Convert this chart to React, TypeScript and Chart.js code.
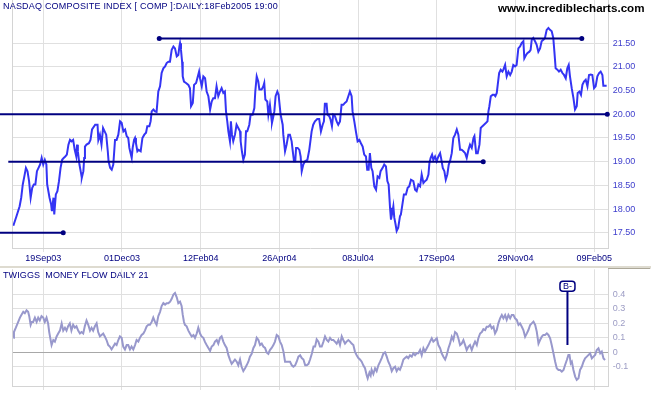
import React, { useEffect, useRef } from "react";
import { Chart, registerables } from "chart.js";

Chart.register(...registerables);

// ---------- DATA ----------
// bar index (trading day, 0 = ~22 Aug 2003) and NASDAQ value (hundreds)
const priceBars = [
  0, 2, 4, 5, 6, 7, 8, 9, 10, 11, 12, 13, 14, 15, 16, 17, 18, 19, 20, 21, 21.5, 23, 24, 24.5, 25.5, 26, 27, 28, 29, 30,
  31, 32, 33, 34, 35, 36, 37, 38, 39, 40, 40.5, 41, 42, 43, 43.5, 44.5, 45, 45.5, 46.5, 48, 49, 50, 52, 53.5, 54, 55, 56, 57, 58, 59,
  60, 60.5, 61.5, 62.5, 63.5, 64.6, 65.6, 66.7, 67.8, 68.8, 69.9, 71, 72, 73, 73.7, 74.5, 75.2, 75.8, 76.7, 77.3, 77.9, 78.8, 79.6, 80.9,
  82, 83.2, 84.3, 85.1, 86.4, 87.2, 87.9, 89, 90, 91, 92.1, 93.2, 94.2, 95.3, 96.4, 97.4, 98.5, 99.5, 100.6, 101.7, 102.7, 103.8, 104.8,
  105.5, 105.9, 106.5, 107.2, 107.6, 108.4, 109.7, 111.2, 112.2, 112.9, 114, 114.8, 116.1, 116.9, 118, 118.6, 119.7, 120.7, 121.8, 122.8,
  123.9, 125, 126, 127, 128.1, 129.1, 130.2, 131.3, 132.3, 133.4, 134.4, 135.1, 135.9, 136.6, 137.6, 138.2, 138.9, 139.7, 140.8, 141.8,
  142.9, 144, 144.4, 145.2, 146.1, 147.1, 147.8, 148.6, 149.9, 150.7, 152, 153.1, 153.7, 154.6, 155.6, 156.3, 157.7, 158.8, 159.4, 160.1,
  161.3, 162, 163, 163.7, 164.3, 165.2, 165.8, 166.6, 167.7, 168.5, 169.8, 171.1, 171.5, 172.6, 173.6, 174.7, 175.7, 176.8, 177.4, 178.3,
  179.1, 179.6, 180.6, 181.7, 182.5, 183.2, 184.2, 185.3, 186.8, 188, 189.5, 190.5, 191.6, 193.1, 194.3, 195.4, 196.5, 197.3, 197.9, 199,
  199.6, 200.7, 201.5, 202.4, 203.2, 204.3, 205.4, 206.4, 207.5, 208.5, 209.6, 210.6, 211.7, 212.8, 213.8, 214.9, 215.5, 216.6, 217.6, 218.7,
  219.8, 220.8, 221.9, 222.9, 224, 224.8, 225.7, 226.5, 227.4, 228.2, 229.3, 230.4, 231.4, 232.5, 233.3, 234.6, 235.6, 236.7, 237.6, 238.4,
  239.3, 239.9, 240.7, 241.4, 242, 242.8, 243.5, 244.5, 245.6, 246.2, 247.3, 248.1, 249.4, 250.5, 251.5, 252.6, 254.1, 255.2, 256.2, 257.3,
  258.4, 259.4, 260.5, 261.5, 262.6, 263.7, 264.3, 265.1, 266, 266.8, 267.9, 268.9, 270, 271.1, 271.7, 272.8, 273.8, 274.7, 275.7, 276.6,
  277.4, 278.5, 279.5, 280.6, 281.7, 282.7, 283.8, 284.8, 285.9, 287, 288, 289.1, 290.1, 291.2, 292.3, 292.9, 294, 295, 296.1, 296.9,
  298, 299, 300.3, 301.2, 301.8, 302.4, 303.3, 304.5, 305.4, 306.2, 307.1, 307.7, 308.6, 309.6, 310.7, 311.3, 312.4, 313.4, 314.5, 315.6,
  316.6, 317.6, 318.7, 319.7, 320.8, 321.9, 322.9, 324, 324.6, 325.7, 326.5, 327.8, 328.6, 329.3, 330.3, 331.4, 332.4, 333.5, 334.6, 335.6,
  336.7, 337.7, 338.8, 339.9, 340.9, 342, 343, 343.7, 344.5, 345.6, 346.6, 347.7, 348.8, 349.8, 350.9, 351.9, 352.8, 353.6, 354.7, 355.8,
  356.8, 357.9, 358.5, 359.6, 360.6, 361.5, 362.5, 363.6, 364.7, 365.7, 366.8, 367.8, 368.9, 369.9, 371, 372.1, 373.1, 374.2, 374.8, 375.9,
  376.9,
];
const priceValues = [
  17.65, 17.85, 18.06, 18.24, 18.52, 18.69, 18.87, 18.8, 18.59, 18.24, 18.45, 18.52, 18.52, 18.8, 18.87, 18.94, 19.08, 18.94, 19.04, 18.94, 18.52, 18.24, 18.1, 17.96, 18.24, 17.89, 18.31, 18.38, 18.59, 18.87,
  19.04, 19.08, 19.11, 19.15, 19.36, 19.46, 19.43, 19.46, 19.25, 19.11, 19.36, 19.22, 18.94, 18.76, 18.66, 18.8, 19.08, 19.32, 19.36, 19.39, 19.46, 19.68, 19.78, 19.78, 19.46, 19.57, 19.36, 19.71, 19.64, 19.57,
  19.22, 19.01, 18.87, 18.83, 18.94, 19.46, 19.46, 19.57, 19.85, 19.82, 19.64, 19.68, 19.54, 19.5, 19.29, 19.18, 19.08, 19.29, 19.46, 19.5, 19.39, 19.22, 19.25, 19.22,
  19.5, 19.57, 19.61, 19.75, 19.75, 19.85, 20.06, 20.1, 20.06, 20.05, 20.48, 20.59, 20.87, 20.97, 21.01, 21.08, 21.11, 21.11, 21.36, 21.43, 21.39, 21.22, 21.25,
  21.43, 21.5, 21.36, 21.11, 20.8, 20.69, 20.66, 20.62, 20.55, 20.17, 20.24, 20.62, 20.66, 20.76, 20.9, 20.76, 20.59, 20.8, 20.76, 20.48,
  20.38, 20.1, 20.27, 20.34, 20.34, 20.59, 20.38, 20.48, 20.55, 20.45, 20.48, 20.06, 19.85, 19.64, 19.43, 19.85, 19.57, 19.43, 19.57, 19.78,
  19.71, 19.64, 19.43, 19.22, 19.04, 19.15, 19.64, 19.64, 19.78, 19.99, 19.99, 20.13, 20.48, 20.8, 20.69, 20.52, 20.52, 20.59, 20.66, 20.31,
  20.27, 19.99, 20.2, 19.99, 19.82, 19.96, 20.06, 20.38, 20.48, 20.41, 19.99, 19.78, 19.57, 19.22, 19.36, 19.57, 19.57, 19.43, 19.25, 19.01,
  19.01, 19.29, 19.29, 19.25, 19.11, 18.8, 18.94, 19.01, 19.04, 19.25, 19.64, 19.78, 19.85, 19.9, 19.9, 19.64, 19.78, 19.85, 20.22, 20.22,
  19.99, 19.96, 19.89, 19.75, 19.99, 19.96, 19.85, 19.78, 19.85, 20.2, 20.2, 20.24, 20.27, 20.38, 20.48, 20.38, 20.06, 19.85, 19.64, 19.43,
  19.46, 19.39, 19.32, 19.15, 19.11, 18.83, 18.83, 19.18, 18.87, 18.8, 18.48, 18.41, 18.69, 18.66, 18.8, 18.87, 18.94, 18.9, 18.59, 18.52,
  18.03, 17.78, 17.92, 18.06, 17.82, 17.68, 17.54, 17.61, 17.85, 17.89, 18.13, 18.31, 18.31, 18.45, 18.48, 18.62, 18.59, 18.41, 18.38, 18.52,
  18.48, 18.73, 18.55, 18.59, 18.62, 18.73, 18.97, 19.08, 19.15, 19.04, 19.11, 19.01, 19.11, 19.18, 19.08, 18.87, 18.8, 18.62, 18.73, 18.94,
  19.01, 19.18, 19.5, 19.57, 19.68, 19.57, 19.25, 19.25, 19.22, 19.18, 19.08, 19.25, 19.36, 19.29, 19.5, 19.54, 19.18, 19.18, 19.36, 19.71,
  19.75, 19.78, 19.82, 19.85, 20.06, 20.17, 20.38, 20.41, 20.41, 20.38, 20.45, 20.62, 20.87, 20.94, 20.9, 20.94, 21.04, 20.8, 20.9, 20.83,
  20.9, 21.04, 21.01, 21.04, 21.39, 21.43, 21.5, 21.54, 21.18, 21.25, 21.29, 21.32, 21.36, 21.57, 21.61, 21.54, 21.47, 21.32, 21.39, 21.54,
  21.57, 21.61, 21.78, 21.82, 21.78, 21.75, 21.61, 21.32, 20.97, 20.94, 20.9, 20.94, 20.87, 20.83, 20.76, 20.97, 21.04, 20.8, 20.55, 20.34,
  20.1, 20.17, 20.45, 20.48, 20.41, 20.62, 20.69, 20.73, 20.59, 20.83, 20.84, 20.83, 20.55, 20.59, 20.8, 20.87, 20.9, 20.83, 20.6, 20.6,
  20.6,
];

// Twiggs Money Flow (21)
const tmfBars = [
  0, 0.4, 1.6, 3.1, 4.2, 5.2, 6.3, 7.3, 8.4, 9.4, 10.1, 11, 11.7, 12.6, 13.7, 14.8, 15.8, 16.8, 17.9, 19,
  20, 21.1, 22.1, 22.8, 23.7, 24.3, 25.4, 26.4, 27.5, 28.5, 29.6, 30.7, 31.7, 32.8, 33.8, 34.8, 35.9, 36.9, 38, 39.1,
  40.1, 41.2, 42.3, 43.3, 44.4, 45.4, 46.5, 47.6, 48.7, 49.7, 50.7, 51.8, 52.9, 53.9, 55, 56, 57.1, 58.1, 59.2, 60.3,
  61.3, 62.4, 63.5, 64.6, 65.6, 66.7, 67.7, 68.8, 69.8, 70.9, 72, 73, 74.1, 75.1, 76.2, 77.3, 78.3, 79.4, 80.4, 81.5,
  82.6, 83.6, 84.7, 85.8, 86.8, 87.9, 88.9, 90, 91, 92.1, 93.2, 94.2, 95.3, 96.4, 97.4, 98.5, 99.6, 100.6, 101.7, 102.7,
  103.8, 104.8, 105.9, 106.9, 107.6, 108.4, 109, 110.1, 111.2, 112.2, 113.3, 114.4, 115.4, 116.5, 117.5, 118.6, 119.6, 120.7, 121.8, 122.8,
  123.9, 125, 126, 127.1, 128.1, 129.2, 130.2, 131.3, 132.3, 133.4, 134.4, 135.5, 136.6, 137.6, 138.7, 139.8, 140.8, 141.9, 142.9, 144,
  145, 146.1, 147.2, 148.2, 149.3, 150.3, 151.4, 152.5, 153.5, 154.6, 155.7, 156.7, 157.8, 158.8, 159.9, 160.9, 162, 163, 164.1, 165.2,
  166.2, 167.3, 168.4, 169.4, 170.5, 171.6, 172.6, 174.7, 175.8, 176.9, 177.9, 179, 180, 181.1, 182.2, 183.2, 184.3, 185.4, 186.4, 187.5,
  188.5, 189.6, 190.7, 191.7, 192.7, 193.8, 194.8, 195.9, 197, 198, 199.1, 200.1, 201.2, 202.2, 203.3, 204.3, 205.4, 206.5, 207.5, 208.6,
  209.6, 210.7, 211.7, 212.8, 213.9, 214.9, 216, 217, 218.1, 219.2, 220.2, 221.3, 222.3, 223.4, 224.5, 225.1, 226.2, 227, 227.6, 228.7,
  229.8, 230.8, 231.9, 233, 234, 235.1, 236.1, 237.2, 238.2, 239.3, 240.4, 241.4, 242.5, 243.5, 244.6, 245.6, 246.7, 247.8, 248.8, 249.9,
  250.9, 252, 253.1, 254.1, 255.2, 256.2, 257.3, 258.4, 259.4, 260.5, 261.5, 262.6, 263.7, 264.7, 265.8, 266.8, 267.9, 269, 270, 271.1,
  272.1, 273.2, 274.3, 275.3, 276.4, 277.4, 278.5, 279.5, 280.6, 281.7, 282.7, 283.8, 284.8, 285.9, 287, 288, 289.1, 290.1, 291.2, 292.3,
  293.3, 294.4, 295.4, 296.5, 297.6, 298.6, 299.7, 300.7, 301.8, 302.9, 303.9, 305, 306, 307.1, 308.1, 309.2, 310.3, 311.3, 312.4, 313.4,
  314.5, 315.6, 316.6, 317.7, 318.7, 319.8, 320.9, 321.9, 323, 324, 325.1, 326.2, 327.2, 328.3, 329.3, 330.4, 331.5, 332.5, 333.6, 334.6,
  335.7, 336.7, 337.8, 338.9, 339.9, 341, 342, 343.1, 344.2, 345.2, 346.3, 347.3, 348.4, 349.5, 350.5, 351.6, 352.6, 353.3, 354.1, 354.8,
  355.8, 356.9, 357.9, 359, 360, 361.1, 362.2, 363.2, 364.3, 365.4, 366.4, 367.5, 368.5, 369.6, 370.6, 371.7, 372.8, 373.8, 374.9, 375.9,
];
const tmfValues = [
  0.1, 0.14, 0.17, 0.21, 0.24, 0.26, 0.28, 0.27, 0.29, 0.28, 0.25, 0.19, 0.21, 0.21, 0.24, 0.21, 0.24, 0.22, 0.25, 0.24,
  0.21, 0.24, 0.2, 0.14, 0.085, 0.05, 0.085, 0.074, 0.11, 0.13, 0.15, 0.2, 0.15, 0.17, 0.15, 0.18, 0.2, 0.15, 0.19, 0.17,
  0.18, 0.15, 0.13, 0.14, 0.13, 0.18, 0.22, 0.19, 0.15, 0.17, 0.15, 0.18, 0.2, 0.14, 0.11, 0.12, 0.13, 0.11, 0.085, 0.05,
  0.04, 0.02, 0.04, 0.06, 0.05, 0.085, 0.11, 0.1, 0.04, 0.02, 0.05, 0.05, 0.02, 0.04, 0.02, 0.05, 0.085, 0.074, 0.1, 0.12,
  0.13, 0.15, 0.18, 0.19, 0.19, 0.21, 0.24, 0.21, 0.19, 0.25, 0.28, 0.32, 0.34, 0.33, 0.34, 0.34, 0.35, 0.37, 0.4, 0.41,
  0.38, 0.34, 0.35, 0.32, 0.26, 0.21, 0.19, 0.18, 0.15, 0.13, 0.11, 0.12, 0.1, 0.13, 0.17, 0.13, 0.11, 0.1, 0.07, 0.05,
  0.03, 0.01, 0.04, 0.05, 0.074, 0.085, 0.06, 0.1, 0.11, 0.074, 0.05, 0.03, -0.02, -0.05, -0.08, -0.065, -0.05, -0.065, -0.09, -0.05,
  -0.1, -0.13, -0.11, -0.09, -0.065, -0.03, -0.01, 0.03, 0.05, 0.1, 0.085, 0.05, 0.06, 0.04, 0.03, 0.0, -0.01, 0.016, 0.03, 0.05,
  0.074, 0.12, 0.11, 0.074, 0.05, 0.005, -0.065, -0.065, -0.065, -0.09, -0.1, -0.09, -0.065, -0.03, -0.02, -0.04, -0.05, -0.09, -0.09, -0.08,
  -0.05, -0.01, 0.04, 0.04, 0.09, 0.074, 0.04, 0.04, 0.074, 0.11, 0.085, 0.074, 0.1, 0.085, 0.085, 0.074, 0.06, 0.085, 0.05, 0.11,
  0.085, 0.06, 0.074, 0.085, 0.074, 0.06, 0.05, 0.005, -0.02, -0.04, -0.05, -0.065, -0.09, -0.11, -0.16, -0.18, -0.14, -0.16, -0.12, -0.15,
  -0.11, -0.13, -0.09, -0.065, -0.04, -0.007, 0.0, -0.03, -0.065, -0.09, -0.13, -0.11, -0.1, -0.13, -0.11, -0.12, -0.09, -0.05, -0.04, -0.03,
  -0.04, -0.02, -0.03, -0.007, -0.02, -0.007, -0.007, 0.016, -0.02, 0.028, 0.005, 0.028, 0.05, 0.074, 0.097, 0.074, 0.085, 0.097, 0.05, 0.028,
  -0.007, -0.03, -0.05, -0.02, 0.028, 0.06, 0.108, 0.085, 0.14, 0.13, 0.097, 0.05, 0.06, 0.085, 0.05, 0.016, 0.04, 0.05, 0.016, 0.05,
  0.074, 0.05, 0.097, 0.13, 0.14, 0.16, 0.154, 0.177, 0.177, 0.19, 0.166, 0.177, 0.131, 0.154, 0.2, 0.235, 0.258, 0.235, 0.258, 0.224,
  0.258, 0.235, 0.258, 0.258, 0.235, 0.224, 0.189, 0.2, 0.177, 0.154, 0.108, 0.131, 0.154, 0.189, 0.2, 0.212, 0.189, 0.143, 0.06, 0.085,
  0.108, 0.12, 0.12, 0.131, 0.12, 0.097, 0.05, -0.007, -0.065, -0.11, -0.122, -0.122, -0.133, -0.122, -0.088, -0.053, -0.018, -0.018, -0.076, -0.065,
  -0.122, -0.168, -0.191, -0.18, -0.122, -0.1, -0.065, -0.042, -0.03, -0.018, -0.007, -0.042, -0.03, -0.018, 0.016, 0.028, -0.007, 0.005, -0.042, -0.053,
];

const dateTickBars = [19, 69, 119, 169, 219, 269, 319, 369];
const dateTickLabels = ["19Sep03", "01Dec03", "12Feb04", "26Apr04", "08Jul04", "17Sep04", "29Nov04", "09Feb05"];
const priceTicks = [17.5, 18, 18.5, 19, 19.5, 20, 20.5, 21, 21.5];
const tmfTicks = [-0.1, 0, 0.1, 0.2, 0.3, 0.4];

// horizontal trend lines drawn on the price chart
const trendStartBars = [92.7, -8.5, -3.2, -8.5];
const trendEndBars = [361.1, 377.3, 298.5, 31.7];
const trendLevels = [21.6, 20.0, 19.0, 17.5];
const trendStartDot = [true, false, true, false];

// signal flag on the money-flow chart
const signalBar = 352;
const signalFrom = 0.05;
const signalTo = 0.424;
const signalLabelAt = 0.456;
const signalText = "B-";

const titleText = "NASDAQ COMPOSITE INDEX [ COMP ]:DAILY:18Feb2005 19:00";
const siteText = "www.incrediblecharts.com";
const tmfTitle = "TWIGGS  MONEY FLOW DAILY 21";

// ---------- STYLE ----------
const FONT = "'Liberation Sans', Arial, sans-serif";
const NAVY = "#000080";
const GRID = "#e0e0e0";
const BORDER = "#d4d4d4";
const X_MIN = -0.4;
const X_MAX = 378.2;

const pts = (xs: number[], ys: number[]) => xs.map((x, i) => ({ x, y: ys[i] }));

const leftFrame = {
  id: "leftFrame",
  beforeDatasetsDraw(chart: any) {
    const { ctx, chartArea } = chart;
    ctx.save();
    ctx.strokeStyle = BORDER;
    ctx.lineWidth = 1;
    ctx.beginPath();
    const x = Math.floor(chartArea.left) + 0.5;
    ctx.moveTo(x, chartArea.top);
    ctx.lineTo(x, chartArea.bottom);
    ctx.stroke();
    ctx.restore();
  },
};

const separator = {
  id: "separator",
  beforeDraw(chart: any) {
    const { ctx, chartArea, width } = chart;
    ctx.save();
    ctx.fillStyle = "#dedbd0";
    ctx.fillRect(0, 0, width, 2);
    ctx.fillStyle = "#aca899";
    ctx.fillRect(Math.floor(chartArea.right), Math.floor(chartArea.top) - 1, width - chartArea.right, 1);
    ctx.restore();
  },
};

const signalFlag = {
  id: "signalFlag",
  afterDatasetsDraw(chart: any) {
    const { ctx, scales } = chart;
    const cx = scales.x.getPixelForValue(signalBar);
    const cy = scales.y.getPixelForValue(signalLabelAt);
    const w = 15;
    const h = 10;
    ctx.save();
    ctx.beginPath();
    (ctx as any).roundRect(cx - w / 2, cy - h / 2, w, h, 3);
    ctx.fillStyle = "#ffffff";
    ctx.fill();
    ctx.lineWidth = 1.5;
    ctx.strokeStyle = NAVY;
    ctx.stroke();
    ctx.fillStyle = NAVY;
    ctx.font = `9px ${FONT}`;
    ctx.textAlign = "center";
    ctx.textBaseline = "middle";
    ctx.fillText(signalText, cx, cy + 0.5);
    ctx.restore();
  },
};

function xAxis(showLabels: boolean, height: number) {
  return {
    type: "linear",
    min: X_MIN,
    max: X_MAX,
    afterBuildTicks: (axis: any) => {
      axis.ticks = dateTickBars.map((v) => ({ value: v }));
    },
    afterFit: (axis: any) => {
      axis.height = height;
    },
    grid: { color: GRID, lineWidth: 1, drawTicks: true, tickLength: 4, tickColor: GRID },
    border: { display: true, color: BORDER },
    ticks: {
      display: showLabels,
      autoSkip: false,
      maxRotation: 0,
      minRotation: 0,
      padding: 1,
      color: NAVY,
      font: { family: FONT, size: 9 },
      callback: (v: any) => {
        const i = dateTickBars.indexOf(Number(v));
        return i >= 0 ? dateTickLabels[i] : "";
      },
    },
  };
}

function yFit(axis: any) {
  axis.width = 42.3;
  axis.paddingTop = 0;
  axis.paddingBottom = 0;
}

export default function App() {
  const topRef = useRef<HTMLCanvasElement | null>(null);
  const botRef = useRef<HTMLCanvasElement | null>(null);

  useEffect(() => {
    document.body.style.margin = "0";
    const top = new Chart(topRef.current as HTMLCanvasElement, {
      type: "line",
      data: {
        datasets: [
          ...trendLevels.map((lvl, i) => ({
            data: [
              { x: trendStartBars[i], y: lvl },
              { x: trendEndBars[i], y: lvl },
            ],
            borderColor: NAVY,
            backgroundColor: NAVY,
            borderWidth: 2,
            pointRadius: [trendStartDot[i] ? 2.5 : 0, 2.5],
            pointHoverRadius: 0,
            pointBackgroundColor: NAVY,
            pointBorderWidth: 0,
            clip: false as any,
            order: 0,
          })),
          {
            data: pts(priceBars, priceValues),
            borderColor: "#3434f4",
            borderWidth: 2,
            pointRadius: 0,
            pointHoverRadius: 0,
            tension: 0,
            order: 1,
          },
        ],
      },
      options: {
        animation: false,
        responsive: false,
        layout: { autoPadding: false, padding: { left: 12.7, top: 0, right: 0, bottom: 0 } },
        plugins: { legend: { display: false }, tooltip: { enabled: false }, title: { display: false } },
        scales: {
          x: xAxis(true, 18) as any,
          y: {
            type: "linear",
            position: "right",
            min: 17.18,
            max: 22.41,
            afterBuildTicks: (axis: any) => {
              axis.ticks = priceTicks.map((v) => ({ value: v }));
            },
            afterFit: yFit,
            grid: { color: GRID, drawTicks: false },
            border: { display: true, color: BORDER },
            ticks: {
              padding: 4,
              color: "#3d3dcc",
              font: { family: FONT, size: 9 },
              callback: (v: any) => Number(v).toFixed(2),
            },
          },
        },
      },
      plugins: [leftFrame],
    });

    const bottom = new Chart(botRef.current as HTMLCanvasElement, {
      type: "line",
      data: {
        datasets: [
          {
            data: [
              { x: signalBar, y: signalFrom },
              { x: signalBar, y: signalTo },
            ],
            borderColor: NAVY,
            borderWidth: 2,
            pointRadius: 0,
            pointHoverRadius: 0,
            order: 0,
          },
          {
            data: pts(tmfBars, tmfValues),
            borderColor: "#9898cc",
            borderWidth: 2,
            pointRadius: 0,
            pointHoverRadius: 0,
            tension: 0,
            order: 1,
          },
        ],
      },
      options: {
        animation: false,
        responsive: false,
        layout: { autoPadding: false, padding: { left: 12.7, top: 3.3, right: 0, bottom: 0 } },
        plugins: { legend: { display: false }, tooltip: { enabled: false }, title: { display: false } },
        scales: {
          x: xAxis(false, 9) as any,
          y: {
            type: "linear",
            position: "right",
            min: -0.233,
            max: 0.574,
            afterBuildTicks: (axis: any) => {
              axis.ticks = tmfTicks.map((v) => ({ value: v }));
            },
            afterFit: yFit,
            grid: {
              color: (c: any) => (c.tick && c.tick.value === 0 ? "#a8a8a8" : GRID),
              drawTicks: false,
            },
            border: { display: true, color: BORDER },
            ticks: {
              padding: 4,
              color: "#9c9cc4",
              font: { family: FONT, size: 9 },
              callback: (v: any) => (Number(v) === 0 ? "0" : Number(v).toFixed(1)),
            },
          },
        },
      },
      plugins: [leftFrame, separator, signalFlag],
    });

    return () => {
      top.destroy();
      bottom.destroy();
    };
  }, []);

  const textBase: React.CSSProperties = {
    position: "absolute",
    fontFamily: FONT,
    lineHeight: 1,
    whiteSpace: "pre",
    margin: 0,
  };

  return (
    <div style={{ position: "relative", width: 651, height: 395, background: "#ffffff", overflow: "hidden" }}>
      <canvas ref={topRef} width={651} height={266} style={{ position: "absolute", left: 0, top: 0, width: 651, height: 266 }} />
      <canvas ref={botRef} width={651} height={129} style={{ position: "absolute", left: 0, top: 266, width: 651, height: 129 }} />
      <div style={{ ...textBase, left: 3, top: 1.7, fontSize: 9, letterSpacing: 0.2, color: NAVY }}>{titleText}</div>
      <div style={{ ...textBase, left: 498, top: 1.7, fontSize: 11.6, fontWeight: "bold", color: "#000000" }}>{siteText}</div>
      <div style={{ ...textBase, left: 3, top: 270.6, fontSize: 9, letterSpacing: 0.1, color: NAVY }}>{tmfTitle}</div>
    </div>
  );
}
